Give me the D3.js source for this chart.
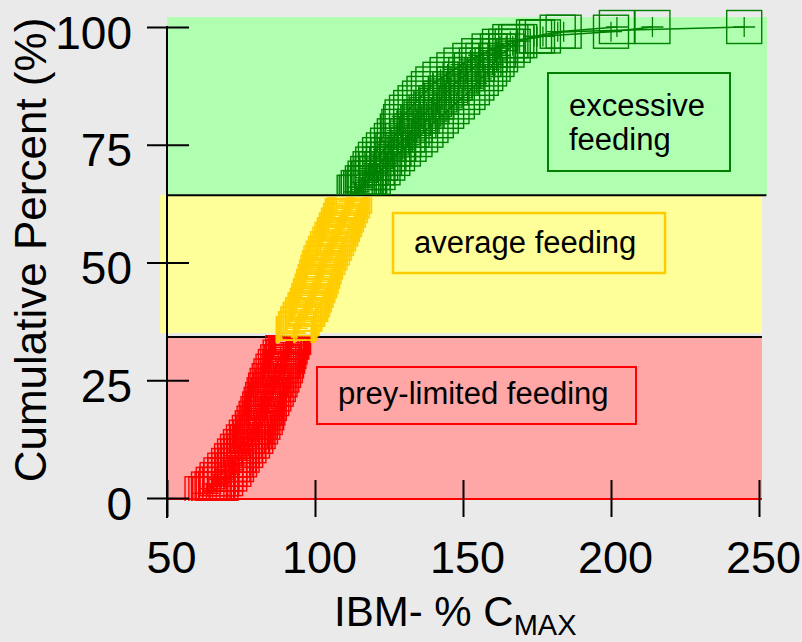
<!DOCTYPE html>
<html><head><meta charset="utf-8">
<script src="https://cdn.jsdelivr.net/npm/d3@7"></script>
<style>
html,body{margin:0;padding:0;background:#eaeaea;}
svg{display:block;}
text{font-family:"Liberation Sans",Arial,Helvetica,sans-serif;}
</style>
</head><body>
<svg id="chart" width="802" height="642"></svg>
<script>
// IBM consumption (% of Cmax) of simulated individuals, three model runs
const runA = [
62.0,64.2,65.8,67.1,68.4,69.7,71.0,72.0,73.0,74.0,
75.0,76.0,77.0,78.0,79.0,79.6,80.3,80.9,81.5,82.0,
82.5,83.0,83.5,84.0,84.7,85.3,86.0,86.8,87.6,88.4,
89.3,90.3,91.2,92.0,92.8,93.6,94.4,95.2,96.0,96.8,
97.6,98.1,98.6,99.2,99.7,100.2,100.7,101.2,101.7,102.2,
102.9,103.7,104.4,105.2,105.9,106.7,107.4,108.1,108.8,109.4,
110.1,110.7,111.4,112.0,113.4,114.8,116.2,117.1,118.0,118.8,
119.7,120.6,122.0,123.3,124.7,126.0,127.0,128.0,128.5,129.1,
129.6,131.1,132.5,134.0,135.5,137.0,138.5,140.0,142.4,144.8,
147.1,149.5,152.5,155.5,159.0,162.5,166.0,175.0,200.0,214.0];
const runB = [
63.3,65.4,66.9,68.3,69.7,71.0,72.1,73.1,74.1,75.2,
76.2,77.3,78.4,79.3,80.2,80.9,81.6,82.2,82.7,83.2,
83.8,84.4,85.1,85.7,86.3,86.9,87.6,88.3,88.9,89.5,
90.1,90.8,91.6,92.3,93.0,93.7,94.5,95.3,96.2,97.1,
98.0,98.5,99.1,99.7,100.2,100.8,101.3,101.8,102.3,102.8,
103.5,104.3,105.0,105.8,106.5,107.2,107.9,108.6,109.3,109.9,
110.6,111.2,111.9,112.6,114.1,115.6,117.0,118.3,119.5,120.8,
122.0,123.3,124.8,126.5,128.1,129.8,131.2,132.6,133.7,134.9,
136.0,137.7,139.3,141.0,142.6,144.2,145.7,147.2,149.2,151.1,
153.0,154.7,156.9,159.0,161.8,164.6,168.0,177.0,184.0,245.0];
const runC = [
64.6,66.6,68.0,69.6,71.0,72.4,73.3,74.3,75.2,76.4,
77.5,78.7,79.8,80.6,81.4,82.2,83.0,83.5,83.9,84.4,
85.2,85.9,86.7,87.4,88.0,88.6,89.2,89.8,90.2,90.6,
91.0,91.4,92.0,92.6,93.2,93.9,94.7,95.4,96.4,97.4,
98.4,99.0,99.6,100.2,100.8,101.4,101.9,102.4,102.9,103.4,
104.2,104.9,105.7,106.4,107.1,107.8,108.5,109.1,109.8,110.4,
111.1,111.8,112.5,113.2,114.8,116.4,117.9,119.5,121.1,122.8,
124.4,126.1,127.7,129.7,131.6,133.6,135.5,137.3,139.0,140.8,
142.5,144.3,146.1,147.9,149.7,151.5,153.0,154.5,156.0,157.5,
158.8,160.0,161.3,162.5,164.7,166.8,169.0,174.0,182.0,202.0];

const yTickValues = [0, 25, 50, 75, 100];
const xTickValues = [50, 100, 150, 200, 250];
const zoneCuts = [34.2, 64.3];               // cumulative-percent boundaries
const zoneLabels = [["prey-limited feeding"], ["average feeding"], ["excessive", "feeding"]];
const xTitleMain = "IBM- % C";
const xTitleSub = "MAX";
const yTitle = "Cumulative Percent (%)";

// ---------- drawing ----------
const svg = d3.select("#chart");
const W = 802, H = 642;
const FONT = '"Liberation Sans",Arial,Helvetica,sans-serif';
const x = d3.scaleLinear().domain([50, 250]).range([167, 759]);
const y = d3.scaleLinear().domain([0, 100]).range([498, 27]);

svg.append("rect").attr("width", W).attr("height", H).attr("fill", "#eaeaea");

// zone bands
const zoneFill = ["#ffa6a6", "#ffff99", "#b0ffb0"];
const zoneStroke = ["#ff0000", "#ffcc00", "#008000"];
const bands = [
  {x0: 50, x1: 251.0, p0: -0.4, p1: zoneCuts[0] - 0.2, z: 0},
  {x0: 47.6, x1: 251.0, p0: zoneCuts[0] + 0.8, p1: zoneCuts[1], z: 1},
  {x0: 50, x1: 252.7, p0: zoneCuts[1], p1: 102.1, z: 2}
];
svg.append("g").selectAll("rect").data(bands).join("rect")
  .attr("x", d => x(d.x0)).attr("y", d => y(d.p1))
  .attr("width", d => x(d.x1) - x(d.x0)).attr("height", d => y(d.p0) - y(d.p1))
  .attr("fill", d => zoneFill[d.z]);

// boundary lines
svg.append("line").attr("x1", x(50)).attr("x2", x(252.5))
  .attr("y1", y(zoneCuts[1])).attr("y2", y(zoneCuts[1]))
  .attr("stroke", "#000").attr("stroke-width", 2);
svg.append("line").attr("x1", x(50)).attr("x2", x(251))
  .attr("y1", y(zoneCuts[0])).attr("y2", y(zoneCuts[0]))
  .attr("stroke", "#000").attr("stroke-width", 2);
svg.append("line").attr("x1", x(50)).attr("x2", x(251))
  .attr("y1", y(0) + 1).attr("y2", y(0) + 1)
  .attr("stroke", "#ff0000").attr("stroke-width", 2);

// cumulative distributions, one per run
const runs = [runA, runB, runC].map(run => {
  const s = run.slice().sort(d3.ascending);
  const n = s.length;
  return s.map((v, i) => {
    const p = (i + 1) / n * 100;
    return {v, p, z: p <= zoneCuts[0] ? 0 : (p <= zoneCuts[1] ? 1 : 2)};
  });
});

const defs = svg.append("defs");
const clipRanges = [
  [y(zoneCuts[0]) - 2, y(0) + 3],
  [y(zoneCuts[1]) + 2, y(zoneCuts[0]) + 6],
  [0, y(zoneCuts[1])]
];
clipRanges.forEach((r, z) => {
  defs.append("clipPath").attr("id", "clip" + z)
    .append("rect").attr("x", 0).attr("width", W).attr("y", r[0]).attr("height", r[1] - r[0]);
});

const SW = 35, SH = 33;
const lineGen = d3.line().x(d => x(d.v)).y(d => y(d.p));
[0, 1, 2].forEach(z => {
  const g = svg.append("g").attr("clip-path", `url(#clip${z})`);
  runs.forEach(pts => {
    const zp = pts.filter(d => d.z === z);
    if (!zp.length) return;
    const rg = g.append("g");
    rg.selectAll("rect").data(zp).join("rect")
      .attr("x", d => x(d.v) - SW / 2).attr("y", d => y(d.p) - SH / 2)
      .attr("width", SW).attr("height", SH)
      .attr("fill", "none").attr("stroke", zoneStroke[z]).attr("stroke-width", 1.4);
    const i0 = pts.indexOf(zp[0]);
    const seg = pts.slice(Math.max(0, i0 - 1), i0 + zp.length + 1);
    rg.append("path").attr("d", lineGen(seg)).attr("fill", "none")
      .attr("stroke", zoneStroke[z]).attr("stroke-width", 1.5);
    rg.selectAll("path.plus").data(zp).join("path").attr("class", "plus")
      .attr("d", d => `M${x(d.v) - 11},${y(d.p)}h22M${x(d.v)},${y(d.p) - 10}v20`)
      .attr("stroke", zoneStroke[z]).attr("stroke-width", 1.3).attr("fill", "none");
  });
});

// axes
svg.append("line").attr("x1", 167).attr("x2", 167).attr("y1", y(100) - 1).attr("y2", y(0) + 20)
  .attr("stroke", "#000").attr("stroke-width", 2);

const gy = svg.append("g").attr("transform", "translate(167,0)")
  .call(d3.axisLeft(y).tickValues(yTickValues).tickFormat(d3.format("d")));
gy.select(".domain").remove();
gy.selectAll(".tick line").attr("x1", 22).attr("x2", -20).attr("stroke", "#000").attr("stroke-width", 2);
gy.selectAll(".tick text").attr("x", -35).attr("dy", null).attr("y", 21)
  .attr("font-size", 46).attr("font-family", FONT).attr("fill", "#000");

const gx = svg.append("g").attr("transform", `translate(0,${y(0)})`)
  .call(d3.axisBottom(x).tickValues(xTickValues).tickFormat(d3.format("d")));
gx.select(".domain").remove();
gx.selectAll(".tick line").attr("y1", -18).attr("y2", 19).attr("stroke", "#000").attr("stroke-width", 2);
gx.selectAll(".tick text").attr("y", 75).attr("dy", null).attr("dx", 4)
  .attr("font-size", 45).attr("font-family", FONT).attr("fill", "#000");

// titles
svg.append("text").attr("transform", "translate(46,250) rotate(-90)")
  .attr("text-anchor", "middle").attr("font-size", 44).attr("fill", "#000").text(yTitle);
const xt = svg.append("text").attr("x", 334).attr("y", 626).attr("font-size", 42).attr("fill", "#000");
xt.append("tspan").text(xTitleMain);
xt.append("tspan").attr("font-size", 29).attr("dy", 9).text(xTitleSub);

// zone annotation boxes
const boxes = [
  {z: 0, x: 317, y: 367, w: 319, h: 57, tx: 338, ty: [404]},
  {z: 1, x: 393, y: 213, w: 272, h: 60, tx: 414, ty: [253]},
  {z: 2, x: 548, y: 73, w: 182, h: 98, tx: 569, ty: [116, 150]}
];
boxes.forEach(b => {
  svg.append("rect").attr("x", b.x).attr("y", b.y).attr("width", b.w).attr("height", b.h)
    .attr("fill", "none").attr("stroke", zoneStroke[b.z]).attr("stroke-width", b.z === 1 ? 2.5 : 2);
  zoneLabels[b.z].forEach((t, k) => {
    svg.append("text").attr("x", b.tx).attr("y", b.ty[k]).attr("font-size", 31)
      .attr("fill", "#000").text(t);
  });
});
</script>
</body></html>
